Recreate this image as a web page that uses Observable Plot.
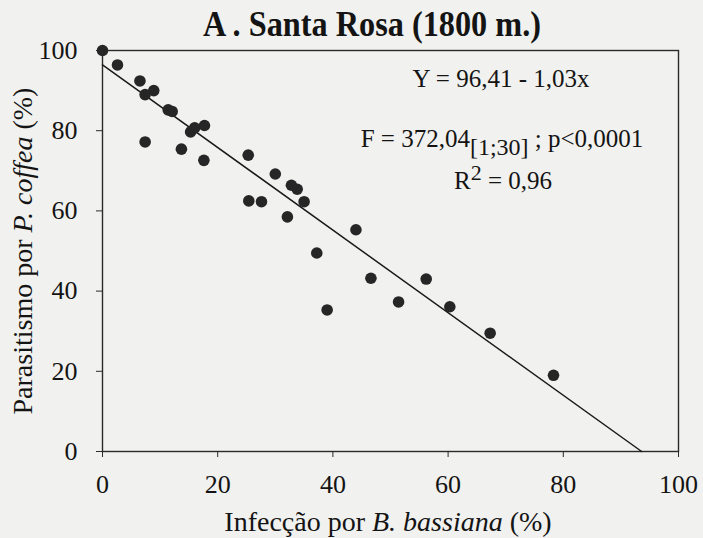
<!DOCTYPE html>
<html>
<head>
<meta charset="utf-8">
<script src="https://cdn.jsdelivr.net/npm/d3@7"></script>
<script src="https://cdn.jsdelivr.net/npm/@observablehq/plot@0.6"></script>
<style>
  html, body { margin: 0; padding: 0; background: #f1f1ef; }
  #chart { width: 703px; height: 538px; }
</style>
</head>
<body>
<div id="chart"></div>
<script>
// Infecção por B. bassiana (%)
const infection = [0, 2.6, 6.5, 7.4, 8.9, 11.4, 12.1, 7.4, 15.3, 16.0, 17.7, 13.7, 17.6, 25.3, 30.0,
  32.8, 33.8, 35.0, 25.4, 27.6, 32.1, 44.0, 37.2, 46.6, 39.0, 51.4, 56.2, 60.3, 67.3, 78.3];
// Parasitismo por P. coffea (%)
const parasitism = [100, 96.4, 92.4, 89.0, 90.0, 85.2, 84.8, 77.2, 79.7, 80.7, 81.3, 75.4, 72.6, 73.9, 69.2,
  66.4, 65.4, 62.3, 62.5, 62.3, 58.5, 55.3, 49.5, 43.2, 35.3, 37.3, 43.0, 36.1, 29.5, 19.0];
// Regression Y = 96,41 - 1,03x
const intercept = [96.41];
const slope = [-1.03];
const xTicks = [0, 20, 40, 60, 80, 100];
const yTicks = [0, 20, 40, 60, 80, 100];

const points = infection.map((x, i) => ({x, y: parasitism[i]}));
const xEnd = -intercept[0] / slope[0];
const fit = [0, xEnd].map(x => ({x, y: intercept[0] + slope[0] * x}));

const ink = "#141414";
const serif = "Liberation Serif";

const chart = Plot.plot({
  width: 703,
  height: 538,
  marginTop: 50,
  marginBottom: 87,
  marginLeft: 102,
  marginRight: 25,
  style: {background: "transparent", color: ink, fontFamily: serif, fontSize: "26px"},
  x: {domain: [0, 100], ticks: xTicks, label: null},
  y: {domain: [0, 100], ticks: yTicks, label: null},
  marks: [
    Plot.frame({stroke: "#2a2a2a", strokeWidth: 1.4}),
    Plot.axisX({ticks: xTicks, tickSize: 6, tickPadding: 17, label: null, fontSize: 26, fontFamily: serif, stroke: "#2a2a2a"}),
    Plot.axisY({ticks: yTicks, tickSize: 6, tickPadding: 19, label: null, fontSize: 26, fontFamily: serif, stroke: "#2a2a2a"}),
    Plot.line(fit, {x: "x", y: "y", stroke: "#1a1a1a", strokeWidth: 1.5}),
    Plot.dot(points, {x: "x", y: "y", r: 5.8, fill: "#262626", stroke: "none"})
  ]
});
document.getElementById("chart").appendChild(chart);

const svg = d3.select(chart);
svg.style("overflow", "visible");

function addText(x, y, parts, opts = {}) {
  const t = svg.append("text")
    .attr("x", x).attr("y", y)
    .attr("text-anchor", opts.anchor || "middle")
    .attr("font-family", serif)
    .attr("font-size", opts.size || 25)
    .attr("fill", ink);
  if (opts.bold) t.attr("font-weight", "bold");
  if (opts.transform) t.attr("transform", opts.transform);
  if (opts.textLength) t.attr("textLength", opts.textLength).attr("lengthAdjust", "spacingAndGlyphs");
  parts.forEach(p => {
    const s = t.append("tspan").text(p.text);
    if (p.italic) s.attr("font-style", "italic");
    if (p.dy) s.attr("dy", p.dy);
    if (p.size) s.attr("font-size", p.size);
  });
  return t;
}

// Title
addText(203, 36, [{text: "A . Santa Rosa (1800 m.)"}], {anchor: "start", bold: true, size: 36, textLength: 338});

// Axis titles
addText(388, 531, [{text: "Infecção por "}, {text: "B. bassiana", italic: true}, {text: " (%)"}], {size: 28});
addText(0, 0, [{text: "Parasitismo por "}, {text: "P. coffea", italic: true}, {text: " (%)"}],
  {size: 28, transform: "translate(32,251) rotate(-90)"});

// Statistics annotations
addText(501, 87, [{text: "Y = 96,41 - 1,03x"}], {size: 25});
addText(502, 147, [
  {text: "F = 372,04"},
  {text: "[1;30]", dy: 8, size: 24},
  {text: " ; p<0,0001", dy: -8}
], {size: 25});
addText(503, 189, [
  {text: "R"},
  {text: "2", dy: -9, size: 22},
  {text: " = 0,96", dy: 9}
], {size: 25});
</script>
</body>
</html>
